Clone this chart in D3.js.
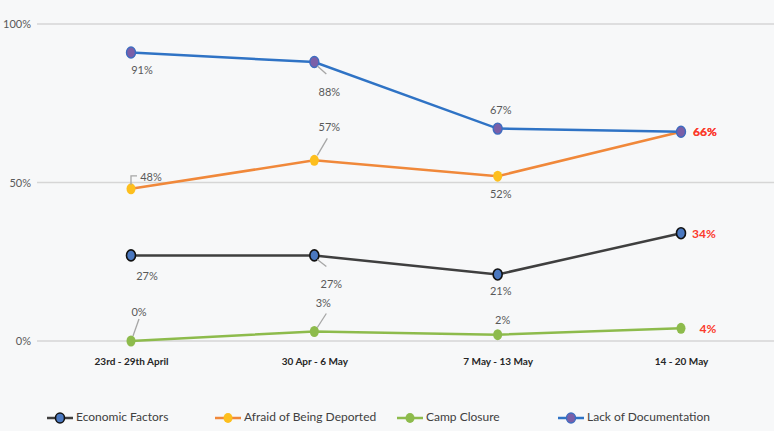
<!DOCTYPE html>
<html><head><meta charset="utf-8">
<script src="https://cdn.jsdelivr.net/npm/d3@7"></script>
<style>
html,body{margin:0;padding:0;background:#f7f8f9;}
svg{display:block;font-family:Lato,"Open Sans",sans-serif;}
</style></head>
<body>
<svg id="c" width="774" height="431"></svg>
<script>
const categories = ["23rd - 29th April","30 Apr - 6 May","7 May - 13 May","14 - 20 May"];
const economic = [27,27,21,34];
const deported = [48,57,52,66];
const camp = [0,3,2,4];
const documentation = [91,88,67,66];
const yTicks = [0,50,100];
const seriesNames = ["Economic Factors","Afraid of Being Deported","Camp Closure","Lack of Documentation"];

const series = [
  {name:seriesNames[0], values:economic, line:"#3f3f3f", fill:"#4a78c0", stroke:"#111", sw:1.6},
  {name:seriesNames[1], values:deported, line:"#f0883a", fill:"#fdbf1e", stroke:"#fdbf1e", sw:0},
  {name:seriesNames[2], values:camp, line:"#8dbb4c", fill:"#8dbb4c", stroke:"#8dbb4c", sw:0},
  {name:seriesNames[3], values:documentation, line:"#2f73c5", fill:"#7a5fa8", stroke:"#3d6cc0", sw:1.4}
];

const labelSpec = [
  [{dx:16,dy:22},{dx:17,dy:30,lead:[[3,4],[12,11]]},{dx:3,dy:18},{dx:23,dy:2,red:true}],
  [{dx:20,dy:-11,bracket:true},{dx:15,dy:-32,lead:[[13,-22],[3,-5]]},{dx:3,dy:19},{dx:24,dy:1,red:true}],
  [{dx:8,dy:-28,lead:[[8,-22],[2,-5]]},{dx:9,dy:-27,lead:[[12,-18],[3,-4]]},{dx:5,dy:-13},{dx:27,dy:2,red:true}],
  [{dx:11,dy:19},{dx:15,dy:31,lead:[[3,4],[12,12]]},{dx:3,dy:-17},{dx:24,dy:1,red:true}]
];

const svg = d3.select("#c");
const x = d3.scalePoint().domain(categories).range([131,681]);
const y = d3.scaleLinear().domain([0,100]).range([341,24]);

svg.append("g").selectAll("line").data(yTicks).join("line")
  .attr("x1",37).attr("x2",774).attr("y1",d=>y(d)).attr("y2",d=>y(d))
  .attr("stroke","#d6d6d6").attr("stroke-width",1.5);

const yAxis = d3.axisLeft(y).tickValues(yTicks).tickFormat(d=>d+"%").tickSize(0).tickPadding(0);
const ya = svg.append("g").attr("transform","translate(31,0)").call(yAxis);
ya.select(".domain").remove();
ya.selectAll("text").attr("fill","#595959").style("font-size","11px").style("font-family","Lato,sans-serif");

const xAxis = d3.axisBottom(x).tickSize(0).tickPadding(0);
const xa = svg.append("g").attr("transform","translate(0,358)").call(xAxis);
xa.select(".domain").remove();
xa.selectAll("text").attr("fill","#262626").style("font-size","10px").style("font-weight","bold").style("font-family","Lato,sans-serif");

const line = d3.line().x((d,i)=>x(categories[i])).y(d=>y(d));

series.forEach((s,si)=>{
  svg.append("path").datum(s.values).attr("d",line)
    .attr("fill","none").attr("stroke",s.line).attr("stroke-width",2.5);
});
series.forEach((s,si)=>{
  svg.append("g").selectAll("ellipse").data(s.values).join("ellipse")
    .attr("cx",(d,i)=>x(categories[i])).attr("cy",d=>y(d))
    .attr("rx",4.5).attr("ry",5.5)
    .attr("fill",s.fill).attr("stroke",s.stroke).attr("stroke-width",s.sw);
});

series.forEach((s,si)=>{
  s.values.forEach((v,i)=>{
    const px = x(categories[i]), py = y(v);
    const sp = labelSpec[si][i];
    if(sp.lead){
      svg.append("line").attr("x1",px+sp.lead[0][0]).attr("y1",py+sp.lead[0][1])
        .attr("x2",px+sp.lead[1][0]).attr("y2",py+sp.lead[1][1])
        .attr("stroke","#a6a6a6").attr("stroke-width",1.3);
    }
    if(sp.bracket){
      svg.append("path").attr("d",`M${px+6},${py-13} H${px} V${py-4}`)
        .attr("fill","none").attr("stroke","#a6a6a6").attr("stroke-width",1.3);
    }
    svg.append("text").attr("x",px+sp.dx).attr("y",py+sp.dy)
      .attr("text-anchor","middle").attr("dominant-baseline","middle")
      .attr("fill",sp.red?"#fb3a2c":"#595959")
      .style("font-size",sp.red?"12px":"11px")
      .style("font-weight",sp.red?"bold":"normal")
      .text(v+"%");
  });
});

const legX = [47,215,397,558];
const lg = svg.append("g");
series.forEach((s,si)=>{
  const g = lg.append("g").attr("transform",`translate(${legX[si]},418)`);
  g.append("line").attr("x1",0).attr("x2",26).attr("y1",0).attr("y2",0).attr("stroke",s.line).attr("stroke-width",2.5);
  g.append("ellipse").attr("cx",13).attr("cy",0).attr("rx",4.5).attr("ry",5)
    .attr("fill",s.fill).attr("stroke",s.stroke).attr("stroke-width",s.sw);
  g.append("text").attr("x",29).attr("y",0).attr("dominant-baseline","middle")
    .attr("fill","#404040").style("font-size","12px").text(s.name);
});
</script>
</body></html>
